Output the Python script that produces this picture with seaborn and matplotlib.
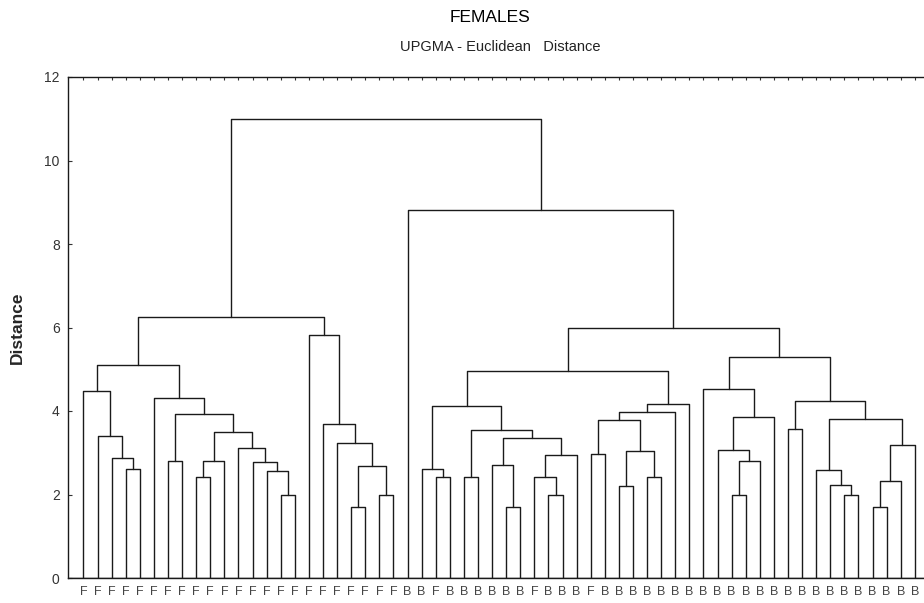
import numpy as np
import pandas as pd
import matplotlib
matplotlib.use("Agg")
import matplotlib.pyplot as plt
import seaborn as sns

# ---- data -------------------------------------------------------------
leaf_labels = list("FFFFFFFFFFFFFFFFFFFFFFF" "BBFBBBBBBFBBBF" "BBBBBBBBBBBBBBBBBBBBBBB")

# merges in order: (child_a, child_b, height); leaves are 0..59, merge k gets id 60+k
merge_a = [3, 2, 1, 0,
           6, 8, 65, 14, 13, 12, 11, 66, 64, 5, 63,
           19, 21, 75, 18, 17, 16, 74,
           25, 24, 27, 30, 29, 33, 32, 88, 86, 84, 83,
           36, 38, 40, 94, 93, 97, 98, 92,
           46, 101, 45, 103, 44,
           50, 54, 53, 52, 56, 110, 111, 109, 106, 105,
           100, 23, 81]
merge_b = [4, 60, 61, 62,
           7, 9, 10, 15, 67, 68, 69, 70, 71, 72, 73,
           20, 22, 76, 77, 78, 79, 80,
           26, 82, 28, 31, 85, 34, 87, 35, 89, 90, 91,
           37, 39, 41, 95, 96, 42, 43, 99,
           47, 48, 102, 49, 104,
           51, 55, 107, 108, 57, 58, 59, 112, 113, 114,
           115, 116, 117]
merge_height = [2.61, 2.87, 3.39, 4.49,
                2.80, 2.43, 2.80, 1.99, 2.56, 2.79, 3.11, 3.50, 3.94, 4.30, 5.10,
                1.69, 1.99, 2.69, 3.24, 3.70, 5.82, 6.25,
                2.43, 2.60, 2.43, 1.70, 2.71, 1.98, 2.43, 2.95, 3.36, 3.54, 4.13,
                2.97, 2.21, 2.43, 3.03, 3.78, 3.98, 4.17, 4.96,
                1.98, 2.80, 3.06, 3.86, 4.52,
                3.57, 1.98, 2.22, 2.59, 1.71, 2.32, 3.18, 3.81, 4.25, 5.29,
                5.99, 8.81, 11.00]
y_ticks = [0, 2, 4, 6, 8, 10, 12]

# ---- build dendrogram segments from the tree ---------------------------
n = len(leaf_labels)
xpos = {i: float(i) for i in range(n)}
ypos = {i: 0.0 for i in range(n)}
rows = []
for k, (a, b, h) in enumerate(zip(merge_a, merge_b, merge_height)):
    nid = n + k
    xs = [xpos[a], xpos[a], xpos[b], xpos[b]]
    ys = [ypos[a], h, h, ypos[b]]
    for j, (xx, yy) in enumerate(zip(xs, ys)):
        rows.append({"seg": nid, "order": j, "x": xx, "y": yy})
    xpos[nid] = (xpos[a] + xpos[b]) / 2.0
    ypos[nid] = h
df = pd.DataFrame(rows)

# ---- plot ------------------------------------------------------------
sns.set_style("ticks")
plt.rcParams["font.family"] = ["Liberation Sans", "DejaVu Sans"]

fig = plt.figure(figsize=(9.24, 6.03), dpi=100)
px = 14.09  # pixels per leaf
x_lo, x_hi = -1.1, 60.0
ax = fig.add_axes([68 / 924, (603 - 578) / 603,
                   (x_hi - x_lo) * px / 924, (578 - 77) / 603])

sns.lineplot(data=df, x="x", y="y", units="seg", estimator=None, sort=False,
             color="#1a1a1a", linewidth=1.0, ax=ax, legend=False)

# baseline
ax.axhline(0, color="#1a1a1a", lw=1.0)

ax.set_xlim(x_lo, x_hi)
ax.set_ylim(0, 12)
ax.set_yticks(y_ticks)
ax.set_yticklabels([str(v) for v in y_ticks], fontsize=10, color="#333333")
ax.set_xticks(range(n))
ax.set_xticklabels(leaf_labels, fontsize=9, color="#444444")
ax.tick_params(axis="x", top=True, bottom=False, labelbottom=True,
               direction="in", length=2.5, width=0.8, color="#333333", pad=6)
ax.tick_params(axis="y", left=True, direction="in", length=3, width=0.8,
               color="#333333", pad=6)
for s in ["left", "top", "bottom"]:
    ax.spines[s].set_color("#1a1a1a")
    ax.spines[s].set_linewidth(1.0)
ax.spines["right"].set_visible(False)
ax.set_xlabel("")
ax.set_ylabel("Distance", fontsize=12.5, fontweight="bold", labelpad=14)

fig.text(490 / 924, 1 - 18 / 603, "FEMALES", ha="center", va="center",
         fontsize=12.5, color="black")
fig.text(500 / 924, 1 - 47 / 603, "UPGMA - Euclidean   Distance", ha="center",
         va="center", fontsize=10.5, color="#222222")

fig.savefig("out.png", dpi=100)
